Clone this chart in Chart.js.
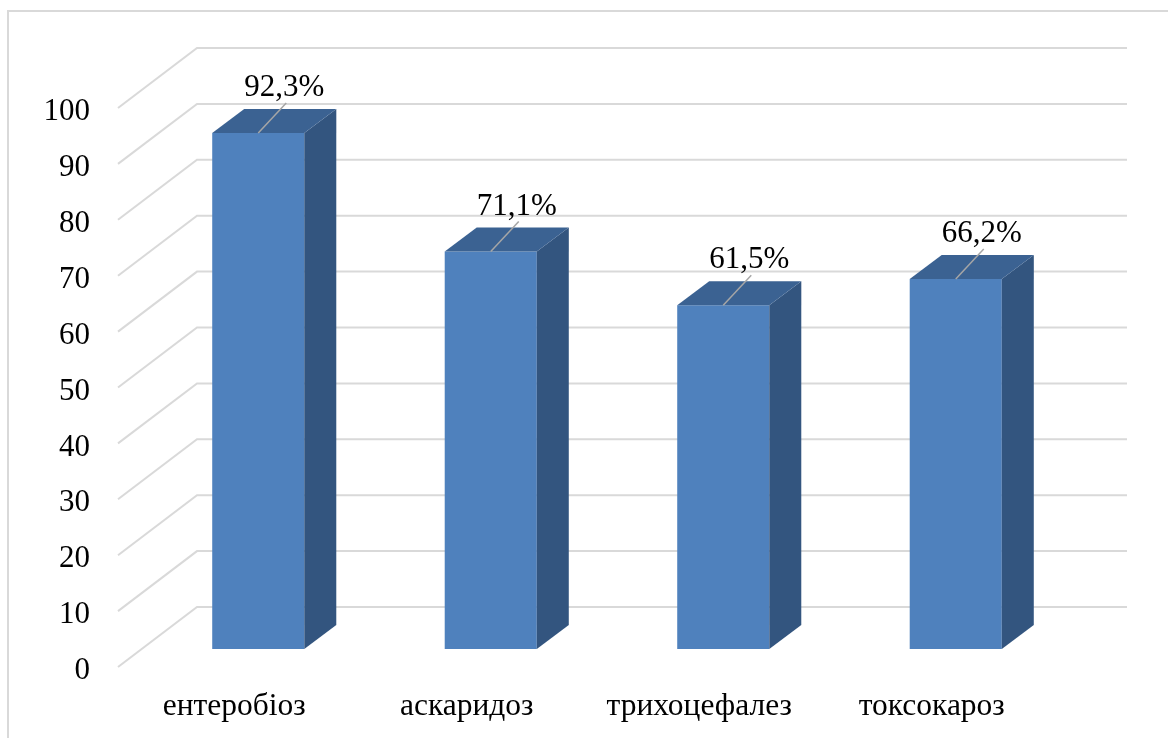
<!DOCTYPE html>
<html>
<head>
<meta charset="utf-8">
<script src="https://cdn.jsdelivr.net/npm/chart.js@4.4.1/dist/chart.umd.min.js"></script>
<style>
    body { margin: 0; background: #fff; }
    canvas { display: block; }
</style>
</head>
<body>
<canvas id="chart3d" width="1168" height="738"></canvas>
<script>
{
    // invasion rates, %
    const categories = ['ентеробіоз', 'аскаридоз', 'трихоцефалез', 'токсокароз'];
    const rates = [92.3, 71.1, 61.5, 66.2];
    const yTicks = [0, 10, 20, 30, 40, 50, 60, 70, 80, 90, 100];

    const serif = '"Liberation Serif", "Times New Roman", serif';
    const gridColor = '#d9d9d9';
    const frontColor = '#4f81bd';
    const topColor = '#3b6292';
    const sideColor = '#33557f';

    // fake perspective: wall and floor offsets relative to the bar plane
    const wall = { dx: 55, dy: -42 };
    const front = { dx: -24, dy: 18 };
    const depth = { dx: 32, dy: -24 };

    const ctx = document.getElementById('chart3d');

    const fake3d = {
        id: 'fake3d',
        beforeDraw(chart) {
            const c = chart.ctx;
            c.save();
            c.fillStyle = '#fff';
            c.fillRect(0, 0, chart.width, chart.height);
            c.strokeStyle = gridColor;
            c.lineWidth = 2;
            c.strokeRect(8, 11, chart.width, chart.height);
            c.restore();
        },
        beforeDatasetsDraw(chart) {
            const c = chart.ctx;
            const area = chart.chartArea;
            const y = chart.scales.y;
            c.save();
            c.strokeStyle = gridColor;
            c.lineWidth = 2;
            yTicks.forEach(v => {
                const py = y.getPixelForValue(v);
                c.beginPath();
                c.moveTo(area.left + front.dx, py + front.dy);
                c.lineTo(area.left + wall.dx, py + wall.dy);
                c.lineTo(area.right + wall.dx, py + wall.dy);
                c.stroke();
            });
            c.restore();
        },
        afterDatasetsDraw(chart) {
            const c = chart.ctx;
            const bars = chart.getDatasetMeta(0).data;
            c.save();
            bars.forEach((bar, i) => {
                const half = bar.width / 2;
                const l = bar.x - half, r = bar.x + half;
                const t = bar.y, b = bar.base;

                // right side
                c.fillStyle = sideColor;
                c.beginPath();
                c.moveTo(r, t);
                c.lineTo(r + depth.dx, t + depth.dy);
                c.lineTo(r + depth.dx, b + depth.dy);
                c.lineTo(r, b);
                c.closePath();
                c.fill();

                // top
                c.fillStyle = topColor;
                c.beginPath();
                c.moveTo(l, t);
                c.lineTo(l + depth.dx, t + depth.dy);
                c.lineTo(r + depth.dx, t + depth.dy);
                c.lineTo(r, t);
                c.closePath();
                c.fill();

                // leader line + value
                c.strokeStyle = '#a6a6a6';
                c.lineWidth = 1.5;
                c.beginPath();
                c.moveTo(bar.x, t);
                c.lineTo(bar.x + 28, t - 30);
                c.stroke();

                c.fillStyle = '#000';
                c.font = '31px ' + serif;
                c.textAlign = 'center';
                c.textBaseline = 'middle';
                c.fillText(String(rates[i]).replace('.', ',') + '%', bar.x + 26, t - 45);
            });
            c.restore();
        }
    };

    new Chart(ctx, {
        type: 'bar',
        data: {
            labels: categories,
            datasets: [{
                data: rates,
                backgroundColor: frontColor,
                borderWidth: 0,
                categoryPercentage: 1,
                barPercentage: 0.396
            }]
        },
        options: {
            responsive: false,
            animation: false,
            events: [],
            layout: { padding: { top: 90, right: 96, left: 0, bottom: 0 } },
            plugins: {
                legend: { display: false },
                tooltip: { enabled: false }
            },
            scales: {
                x: {
                    grid: { display: false, drawTicks: false },
                    border: { display: false },
                    ticks: {
                        color: '#000',
                        font: { family: serif, size: 31.5 },
                        padding: 39,
                        labelOffset: -24,
                        maxRotation: 0
                    },
                    afterFit(axis) { axis.height = 89; }
                },
                y: {
                    min: 0,
                    max: 100,
                    grid: { display: false, drawTicks: false },
                    border: { display: false },
                    ticks: {
                        stepSize: 10,
                        color: '#000',
                        font: { family: serif, size: 31 },
                        padding: 52,
                        labelOffset: 22
                    },
                    afterFit(axis) { axis.width = 142; }
                }
            }
        },
        plugins: [fake3d]
    });
}
</script>
</body>
</html>
